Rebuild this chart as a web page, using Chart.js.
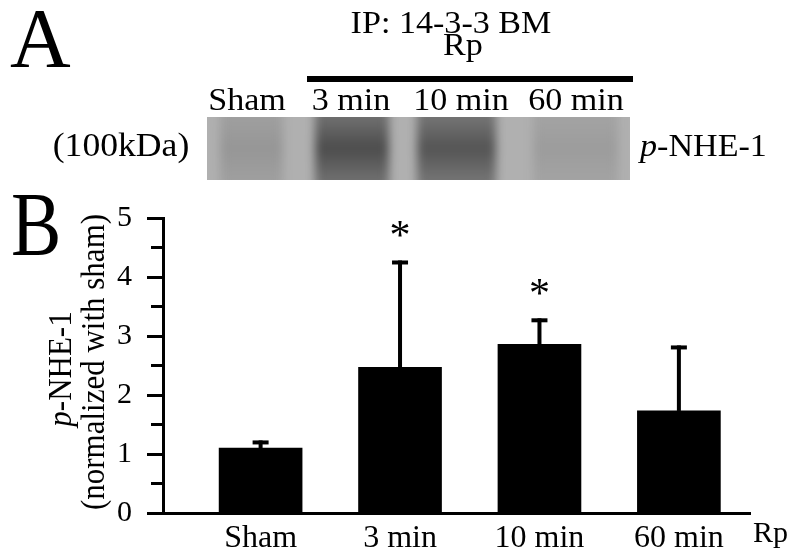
<!DOCTYPE html>
<html>
<head>
<meta charset="utf-8">
<script src="https://cdn.jsdelivr.net/npm/chart.js@4/dist/chart.umd.min.js"></script>
<style>
  html, body { margin: 0; padding: 0; background: #fff; }
</style>
</head>
<body>
<canvas id="graph" width="800" height="560"></canvas>
<script>
// bar values (mean and error bar height)
const groups = ['Sham', '3 min', '10 min', '60 min'];
const means = [1.10, 2.47, 2.86, 1.73];
const errors = [0.13, 1.81, 0.44, 1.11];
const significant = [false, true, true, false];
const yTicks = [0, 1, 2, 3, 4, 5];

// blot lanes of panel A (grey level at band centre)
const laneLabels = ['Sham', '3 min', '10 min', '60 min'];
const bandGrey = [150, 76, 84, 156];

const SERIF = '"Liberation Serif", "Times New Roman", Times, serif';
Chart.defaults.font.family = SERIF;
Chart.defaults.color = '#000';

// draw text (parts = [[string, italic], ...]) with a slight horizontal stretch
function drawText(ctx, parts, x, y, size, align, sx) {
  sx = sx || 1;
  ctx.save();
  let total = 0;
  parts.forEach(p => {
    ctx.font = (p[1] ? 'italic ' : '') + size + 'px ' + SERIF;
    total += ctx.measureText(p[0]).width;
  });
  ctx.translate(x, y);
  ctx.scale(sx, 1);
  let cx = align === 'center' ? -total / 2 : align === 'right' ? -total : 0;
  ctx.fillStyle = '#000';
  ctx.textBaseline = 'alphabetic';
  ctx.textAlign = 'left';
  parts.forEach(p => {
    ctx.font = (p[1] ? 'italic ' : '') + size + 'px ' + SERIF;
    ctx.fillText(p[0], cx, 0);
    cx += ctx.measureText(p[0]).width;
  });
  ctx.restore();
}

function drawBlot(ctx) {
  const L = 207, T = 117, W = 423, H = 63;
  const lanes = [[220, 283], [315, 389], [417, 496], [533, 618]];
  ctx.save();
  ctx.beginPath();
  ctx.rect(L, T, W, H);
  ctx.clip();
  ctx.fillStyle = 'rgb(176,176,176)';
  ctx.fillRect(L, T, W, H);
  ctx.filter = 'blur(5px)';
  lanes.forEach((ln, i) => {
    const g = bandGrey[i];
    const edge = Math.round(g + (176 - g) * 0.35);
    const grad = ctx.createLinearGradient(0, T, 0, T + H);
    grad.addColorStop(0, `rgb(${edge},${edge},${edge})`);
    grad.addColorStop(0.5, `rgb(${g},${g},${g})`);
    grad.addColorStop(1, `rgb(${edge},${edge},${edge})`);
    ctx.fillStyle = grad;
    ctx.fillRect(ln[0], T - 10, ln[1] - ln[0], H + 20);
  });
  ctx.filter = 'none';
  ctx.restore();
}

const figurePlugin = {
  id: 'figure',
  afterDraw(chart) {
    const ctx = chart.ctx;
    const xs = chart.scales.x, ys = chart.scales.y;
    const area = chart.chartArea;

    // ---- panel A ----
    drawText(ctx, [['A', false]], 10, 67, 84, 'left');
    drawText(ctx, [['IP: 14-3-3 BM', false]], 451, 33, 31, 'center', 1.1);
    drawText(ctx, [['Rp', false]], 463, 55, 31, 'center', 1.1);
    ctx.fillStyle = '#000';
    ctx.fillRect(307, 76, 326, 6);
    const laneX = [247, 351, 461, 576];
    laneLabels.forEach((t, i) => drawText(ctx, [[t, false]], laneX[i], 110, 31, 'center', 1.1));
    drawBlot(ctx);
    drawText(ctx, [['(100kDa)', false]], 121, 156, 33, 'center', 1.08);
    drawText(ctx, [['p', true], ['-NHE-1', false]], 640, 156, 31, 'left', 1.1);

    // ---- panel B ----
    ctx.save();
    ctx.translate(11, 255);
    ctx.scale(0.82, 1);
    ctx.font = '92px ' + SERIF;
    ctx.fillStyle = '#000';
    ctx.textAlign = 'left';
    ctx.fillText('B', 0, 0);
    ctx.restore();

    // minor y ticks
    ctx.fillStyle = '#000';
    for (let v = 0.5; v < 5; v += 1) {
      const y = ys.getPixelForValue(v);
      ctx.fillRect(area.left - 12, y - 1.5, 12, 3);
    }

    // error bars and asterisks
    means.forEach((m, i) => {
      const x = xs.getPixelForValue(i + 1);
      const y0 = ys.getPixelForValue(m);
      const y1 = ys.getPixelForValue(m + errors[i]);
      ctx.fillRect(x - 2, y1, 4, y0 - y1);
      ctx.fillRect(x - 8, y1, 16, 4);
      if (significant[i]) {
        ctx.save();
        ctx.font = '42px ' + SERIF;
        ctx.textAlign = 'center';
        ctx.textBaseline = 'alphabetic';
        ctx.fillText('*', x, y1 - 11);
        ctx.restore();
      }
    });

    // rotated y-axis title
    ctx.save();
    ctx.translate(62, 369);
    ctx.rotate(-Math.PI / 2);
    ctx.scale(1, 1.08);
    ctx.textBaseline = 'middle';
    ctx.textAlign = 'left';
    ctx.font = 'italic 31px ' + SERIF;
    const pw = ctx.measureText('p').width;
    ctx.font = '31px ' + SERIF;
    const rw = ctx.measureText('-NHE-1').width;
    ctx.font = 'italic 31px ' + SERIF;
    ctx.fillText('p', -(pw + rw) / 2, 0);
    ctx.font = '31px ' + SERIF;
    ctx.fillText('-NHE-1', -(pw + rw) / 2 + pw, 0);
    ctx.restore();
    ctx.save();
    ctx.translate(95, 362);
    ctx.rotate(-Math.PI / 2);
    ctx.scale(1, 1.08);
    ctx.textBaseline = 'middle';
    ctx.textAlign = 'center';
    ctx.font = '31px ' + SERIF;
    ctx.fillText('(normalized with sham)', 0, 0);
    ctx.restore();

    drawText(ctx, [['Rp', false]], 753, 542, 30, 'left');
  }
};

function build() {
  const ctx = document.getElementById('graph').getContext('2d');
  return new Chart(ctx, {
    type: 'bar',
    data: {
      datasets: [{
        data: groups.map((g, i) => ({ x: i + 1, y: means[i] })),
        backgroundColor: '#000',
        borderWidth: 0,
        barThickness: 83
      }]
    },
    options: {
      responsive: false,
      animation: false,
      layout: { padding: { top: 218, right: 50, left: 0, bottom: 0 } },
      plugins: { legend: { display: false }, tooltip: { enabled: false } },
      scales: {
        x: {
          type: 'linear',
          offset: false,
          min: 0.3,
          max: 4.51,
          afterBuildTicks: s => { s.ticks = groups.map((g, i) => ({ value: i + 1 })); },
          afterFit: s => { s.height = 47; },
          ticks: {
            callback: v => groups[v - 1] || '',
            font: { size: 32 },
            color: '#000',
            padding: -2,
            autoSkip: false,
            maxRotation: 0
          },
          grid: { display: false, offset: false },
          border: { color: '#000', width: 3 }
        },
        y: {
          min: 0,
          max: 5,
          afterBuildTicks: s => { s.ticks = yTicks.map(v => ({ value: v })); },
          afterFit: s => { s.width = 163; },
          ticks: { font: { size: 30 }, color: '#000', padding: 15 },
          grid: { drawOnChartArea: false, drawTicks: true, tickLength: 16, tickWidth: 3, tickColor: '#000' },
          border: { color: '#000', width: 3 }
        }
      }
    },
    plugins: [figurePlugin]
  });
}

Promise.all([
  document.fonts.load('30px "Liberation Serif"'),
  document.fonts.load('italic 30px "Liberation Serif"')
]).catch(() => {}).then(build);
</script>
</body>
</html>
